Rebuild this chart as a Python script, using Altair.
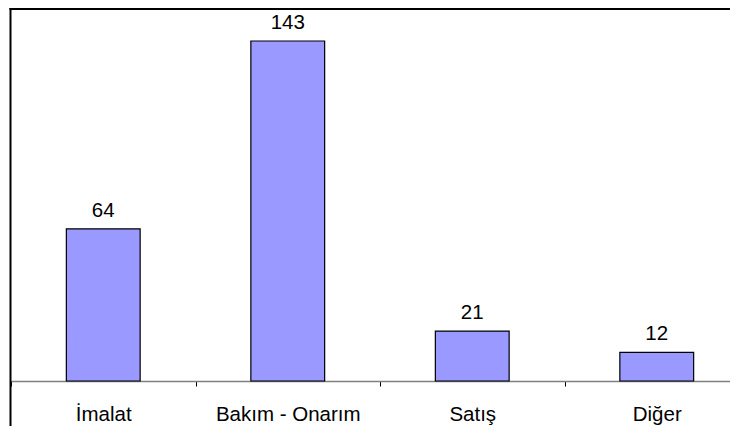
import altair as alt
import pandas as pd

categories = ["İmalat", "Bakım - Onarım", "Satış", "Diğer"]
values = [64, 143, 21, 12]

df = pd.DataFrame({"cat": categories, "val": values})

FONT = "Liberation Sans"
H = 373
W = 719

x_enc = alt.X(
    "cat:N",
    sort=categories,
    scale=alt.Scale(range=[0, 738], paddingInner=0, paddingOuter=0),
    axis=alt.Axis(
        title=None,
        labelAngle=0,
        labelFont=FONT,
        labelFontSize=20.5,
        labelColor="#000000",
        labelBaseline="alphabetic",
        labelPadding=34,
        ticks=True,
        tickBand="extent",
        tickSize=5,
        tickColor="#000000",
        tickOpacity=1,
        tickWidth=1,
        domainColor="#808080",
        domainWidth=1.5,
        grid=False,
    ),
)
y_enc = alt.Y(
    "val:Q",
    scale=alt.Scale(domain=[0, 143 * 373 / 340], nice=False, zero=True),
    axis=None,
)

base = alt.Chart(df)
bars = base.mark_bar(
    color="#9999FF", stroke="#000000", strokeWidth=1.2, width=alt.RelativeBandSize(0.4)
).encode(x=x_enc, y=y_enc)
labels = base.mark_text(
    font=FONT, fontSize=20.5, color="#000000", baseline="alphabetic", dy=-12
).encode(x=x_enc, y=y_enc, text="val:Q")

frame_df = pd.DataFrame({"a": [0]})
left_line = alt.Chart(frame_df).mark_rule(color="#000000", strokeWidth=2).encode(
    x=alt.value(-0.5), y=alt.value(0), y2=alt.value(430)
)
top_line = alt.Chart(frame_df).mark_rule(color="#000000", strokeWidth=2).encode(
    x=alt.value(-1.5), x2=alt.value(760), y=alt.value(1)
)

chart = (
    alt.layer(bars, labels, left_line, top_line)
    .properties(
        width=W,
        height=H,
        autosize=alt.AutoSizeParams(type="none"),
        padding={"left": 3, "top": 0, "right": 0, "bottom": 45},
        background="#ffffff",
    )
    .configure_view(stroke=None)
)

chart.save("out.html", embed_options={"renderer": "svg", "actions": False})
